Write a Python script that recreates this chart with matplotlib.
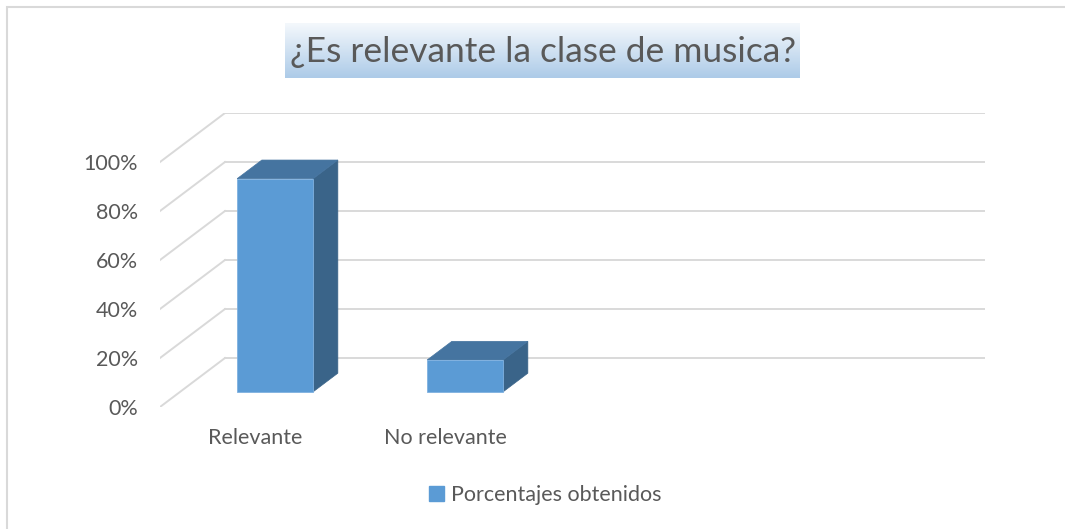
import numpy as np
import matplotlib

matplotlib.use("Agg")
import matplotlib.pyplot as plt
from matplotlib.patches import Polygon, Patch, Rectangle
from matplotlib.colors import LinearSegmentedColormap

# data
categories = ["Relevante", "No relevante", "", ""]
values = [87, 13, None, None]
series_name = "Porcentajes obtenidos"
y_ticks = [0, 20, 40, 60, 80, 100]
y_tick_labels = ["0%", "20%", "40%", "60%", "80%", "100%"]
title = "¿Es relevante la clase de musica?"

FONT = "Lato"
TEXT_COLOR = "#595959"
GRID_COLOR = "#d9d9d9"
FRONT = "#5b9bd5"
TOP = "#4574a0"
SIDE = "#3a6489"

# oblique projection: full depth shifts by DX category units and DY percent units
DX, DY = 0.342, 20.0
D0, D1 = 0.31, 0.69
HALF_W = 0.2

W, H = 1065, 529
fig = plt.figure(figsize=(W / 100, H / 100), dpi=100)
fig.patch.set_facecolor("white")


def px_box(x0, y0, x1, y1):
	return [x0 / W, 1 - y1 / H, (x1 - x0) / W, (y1 - y0) / H]


# outer chart border
fig.patches.append(Rectangle((7 / W, -0.01), 1.02, 1 - 7 / H + 0.01, transform=fig.transFigure,
	fill=False, edgecolor=GRID_COLOR, linewidth=1.5))

ax = fig.add_axes(px_box(160, 113, 985, 407))
ax.set_xlim(-0.5, len(categories) - 0.5 + DX)
ax.set_ylim(0, 100 + DY)
for s in ax.spines.values():
	s.set_visible(False)

# 3D-ish gridlines: diagonal on the side wall + horizontal on the back wall
x_left = -0.5
x_right = len(categories) - 0.5 + DX
for t in y_ticks:
	ax.plot([x_left, x_left + DX], [t, t + DY], color=GRID_COLOR, linewidth=1.4, zorder=1)
	ax.plot([x_left + DX, x_right], [t + DY, t + DY], color=GRID_COLOR, linewidth=1.4, zorder=1)

dd = D1 - D0
for i, v in enumerate(values):
	if v is None:
		continue
	xl = i - HALF_W + DX * D0
	xr = i + HALF_W + DX * D0
	yb = DY * D0
	yt = v + DY * D0
	ax.add_patch(Polygon([(xr, yb), (xr, yt), (xr + DX * dd, yt + DY * dd), (xr + DX * dd, yb + DY * dd)],
		closed=True, facecolor=SIDE, edgecolor=SIDE, linewidth=0.5, zorder=3))
	ax.add_patch(Polygon([(xl, yt), (xr, yt), (xr + DX * dd, yt + DY * dd), (xl + DX * dd, yt + DY * dd)],
		closed=True, facecolor=TOP, edgecolor=TOP, linewidth=0.5, zorder=3))
	ax.add_patch(Polygon([(xl, yb), (xr, yb), (xr, yt), (xl, yt)],
		closed=True, facecolor=FRONT, edgecolor="#7fb1e0", linewidth=0.6, zorder=4))

ax.set_yticks(y_ticks)
ax.set_yticklabels(y_tick_labels)
ax.set_xticks(range(len(categories)))
ax.set_xticklabels(categories)
ax.tick_params(axis="y", length=0, pad=16, labelsize=15.5, labelcolor=TEXT_COLOR)
ax.tick_params(axis="x", length=0, pad=15, labelsize=15.5, labelcolor=TEXT_COLOR)
for lab in ax.get_xticklabels() + ax.get_yticklabels():
	lab.set_fontfamily(FONT)

ax.legend(handles=[Patch(facecolor=FRONT, edgecolor=FRONT, label=series_name)],
	loc="center", bbox_to_anchor=(545 / W, 1 - 495 / H), bbox_transform=fig.transFigure,
	frameon=False, handlelength=0.7, handleheight=0.7, handletextpad=0.3,
	prop={"family": FONT, "size": 15.5}, labelcolor=TEXT_COLOR)

# title box with vertical gradient
tax = fig.add_axes(px_box(285, 23, 800, 78))
grad = LinearSegmentedColormap.from_list("tgrad", ["#f4f8fc", "#adcbe8"])
tax.imshow(np.linspace(0, 1, 64).reshape(-1, 1), aspect="auto", cmap=grad, extent=(0, 1, 0, 1))
tax.set_xlim(0, 1)
tax.set_ylim(0, 1)
tax.axis("off")
tax.text(0.5, 0.47, title, ha="center", va="center", fontsize=25.5, family=FONT, color=TEXT_COLOR)

fig.savefig("out.png", dpi=100, facecolor="white")
